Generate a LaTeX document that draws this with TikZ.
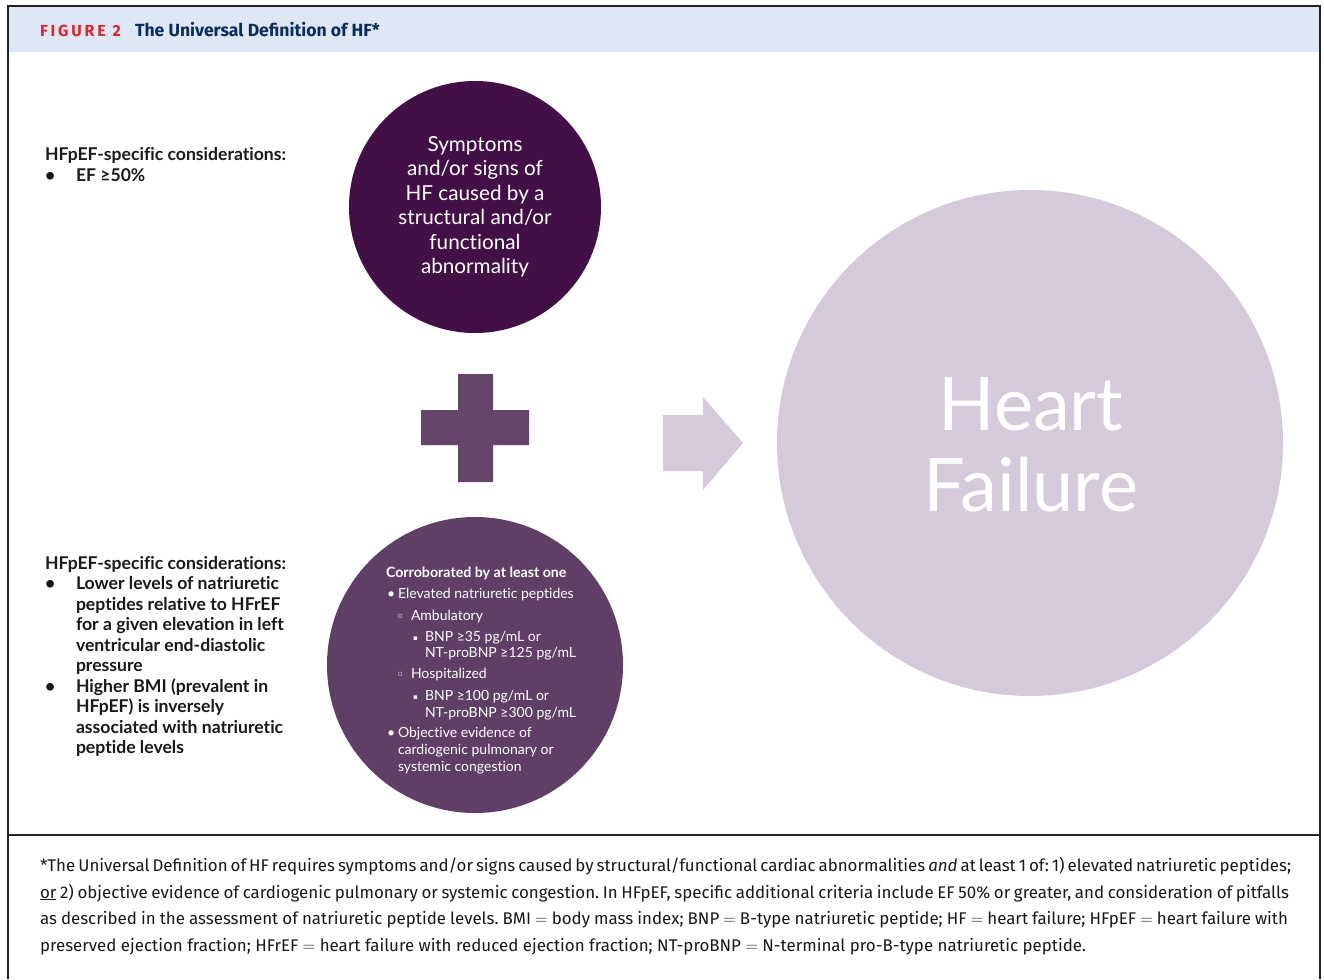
\documentclass[tikz,border=0pt]{standalone}
\usepackage{fontspec}
\setmainfont{Lato}[Ligatures=NoCommon]
\newfontfamily\fira{Fira Sans}
\newfontfamily\dejavu{DejaVu Sans}
\definecolor{hdrbg}{HTML}{DDE8F4}
\definecolor{figred}{HTML}{E2232E}
\definecolor{navy}{HTML}{0C2B5E}
\definecolor{darkpurple}{HTML}{430F47}
\definecolor{midpurple}{HTML}{5F3F66}
\definecolor{pluscol}{HTML}{654569}
\definecolor{lilac}{HTML}{D5CAD9}
\definecolor{framecol}{HTML}{222222}
\tikzset{
  frameline/.style={draw=framecol, line width=1.5pt},
  txt/.style={anchor=base west, inner sep=0pt, outer sep=0pt},
  ctxt/.style={anchor=base, inner sep=0pt, outer sep=0pt},
  sidetxt/.style={txt, font=\bfseries\fontsize{17.6}{20}\selectfont, text=black!90},
  topc/.style={ctxt, font=\fontsize{20.7}{24}\selectfont, text=white},
  botc/.style={txt, font=\fontsize{14}{16}\selectfont, text=white},
  foot/.style={txt, font=\fira\frenchspacing\fontsize{16.9}{18}\selectfont, text=black!90},
}
\begin{document}
\begin{tikzpicture}[x=1pt,y=-1pt]
\useasboundingbox (0,0) rectangle (1324,979);
\fill[white] (0,0) rectangle (1324,979);
% header band and frame
\fill[hdrbg] (8,6) rectangle (1320,52);
\draw[frameline] (8,979) -- (8,6) -- (1320,6) -- (1320,979);
\draw[frameline] (8,835) -- (1320,835);
\node[txt, font=\fira\bfseries\fontsize{16}{17}\selectfont\addfontfeatures{LetterSpace=18}, text=figred] (fig) at (40,37) {FIGURE 2};
\node[txt, font=\fira\bfseries\fontsize{17.6}{19}\selectfont, text=navy] (title) at (135,37) {The Universal Definition of HF*};

% circles
\node[circle, fill=darkpurple, minimum size=252pt, inner sep=0pt] (c1) at (475,207) {};
\node[circle, fill=midpurple, minimum size=296pt, inner sep=0pt] (c2) at (475,665) {};
\node[circle, fill=lilac, minimum size=506pt, inner sep=0pt] (c3) at (1030,443) {};

% plus
\fill[pluscol] (458,374) -- (493,374) -- (493,410) -- (529,410) -- (529,445) -- (493,445)
  -- (493,482) -- (458,482) -- (458,445) -- (421,445) -- (421,410) -- (458,410) -- cycle;
% arrow
\fill[lilac] (663,415) -- (703,415) -- (703,397) -- (743,443) -- (703,490) -- (703,471) -- (663,471) -- cycle;

% top circle text
\node[topc] (t1) at (475,151) {Symptoms};
\node[topc] (t2) at (475,175) {and/or signs of};
\node[topc] (t3) at (475,200) {HF caused by a};
\node[topc] (t4) at (475,224) {structural and/or};
\node[topc] (t5) at (475,249) {functional};
\node[topc] (t6) at (475,273) {abnormality};

% big circle text
\node[ctxt, font=\fontsize{74}{80}\selectfont, text=white] (h1) at (1031,430) {Heart};
\node[ctxt, font=\fontsize{74}{80}\selectfont, text=white] (h2) at (1031,511) {Failure};

% left top text
\node[sidetxt] (lt0) at (45,160) {HFpEF-specific considerations:};
\node[sidetxt] (lt1b) at (45,181) {\textbullet};
\node[sidetxt] (lt1) at (76,181) {EF ≥50\%};

% left bottom text
\node[sidetxt] (lb0) at (45,569) {HFpEF-specific considerations:};
\node[sidetxt] (lb1b) at (45,589) {\textbullet};
\node[sidetxt] (lb1) at (76,589) {Lower levels of natriuretic};
\node[sidetxt] (lb2) at (76,610) {peptides relative to HFrEF};
\node[sidetxt] (lb3) at (76,630) {for a given elevation in left};
\node[sidetxt] (lb4) at (76,651) {ventricular end-diastolic};
\node[sidetxt] (lb5) at (76,671) {pressure};
\node[sidetxt] (lb6b) at (45,692) {\textbullet};
\node[sidetxt] (lb6) at (76,692) {Higher BMI (prevalent in};
\node[sidetxt] (lb7) at (76,712) {HFpEF) is inversely};
\node[sidetxt] (lb8) at (76,733) {associated with natriuretic};
\node[sidetxt] (lb9) at (76,753) {peptide levels};

% bottom circle text
\node[botc, font=\bfseries\fontsize{14.2}{16}\selectfont] (b0) at (386,577) {Corroborated by at least one};
\node[botc] (b1b) at (387,598) {\textbullet};
\node[botc] (b1) at (398,598) {Elevated natriuretic peptides};
\node[botc, font=\dejavu\fontsize{14}{14}\selectfont] (b2b) at (396,621) {◦};
\node[botc] (b2) at (411,620) {Ambulatory};
\node[botc, font=\dejavu\fontsize{7}{10}\selectfont] (b3b) at (413,640) {▪};
\node[botc] (b3) at (425,641) {BNP ≥35 pg/mL or};
\node[botc] (b4) at (425,657) {NT-proBNP ≥125 pg/mL};
\node[botc, font=\dejavu\fontsize{14}{14}\selectfont] (b5b) at (396,679) {◦};
\node[botc] (b5) at (411,678) {Hospitalized};
\node[botc, font=\dejavu\fontsize{7}{10}\selectfont] (b6b) at (413,699) {▪};
\node[botc] (b6) at (425,700) {BNP ≥100 pg/mL or};
\node[botc] (b7) at (425,717) {NT-proBNP ≥300 pg/mL};
\node[botc] (b8b) at (387,737) {\textbullet};
\node[botc] (b8) at (398,737) {Objective evidence of};
\node[botc] (b9) at (398,754) {cardiogenic pulmonary or};
\node[botc] (b10) at (398,771) {systemic congestion};

% footer
\node[foot] (f1) at (40,871) {\makebox[1247pt][s]{*The Universal Definition of HF requires symptoms and/or signs caused by structural/functional cardiac abnormalities \textit{and} at least 1 of: 1) elevated natriuretic peptides;}};
\node[foot] (f2) at (40,898) {\makebox[1249pt][s]{\underline{or} 2) objective evidence of cardiogenic pulmonary or systemic congestion. In HFpEF, specific additional criteria include EF 50\% or greater, and consideration of pitfalls}};
\node[foot] (f3) at (40,924) {\makebox[1248pt][s]{as described in the assessment of natriuretic peptide levels. BMI $=$ body mass index; BNP $=$ B-type natriuretic peptide; HF $=$ heart failure; HFpEF $=$ heart failure with}};
\node[foot] (f4) at (40,951) {preserved ejection fraction; HFrEF $=$ heart failure with reduced ejection fraction; NT-proBNP $=$ N-terminal pro-B-type natriuretic peptide.};
\end{tikzpicture}
\end{document}
